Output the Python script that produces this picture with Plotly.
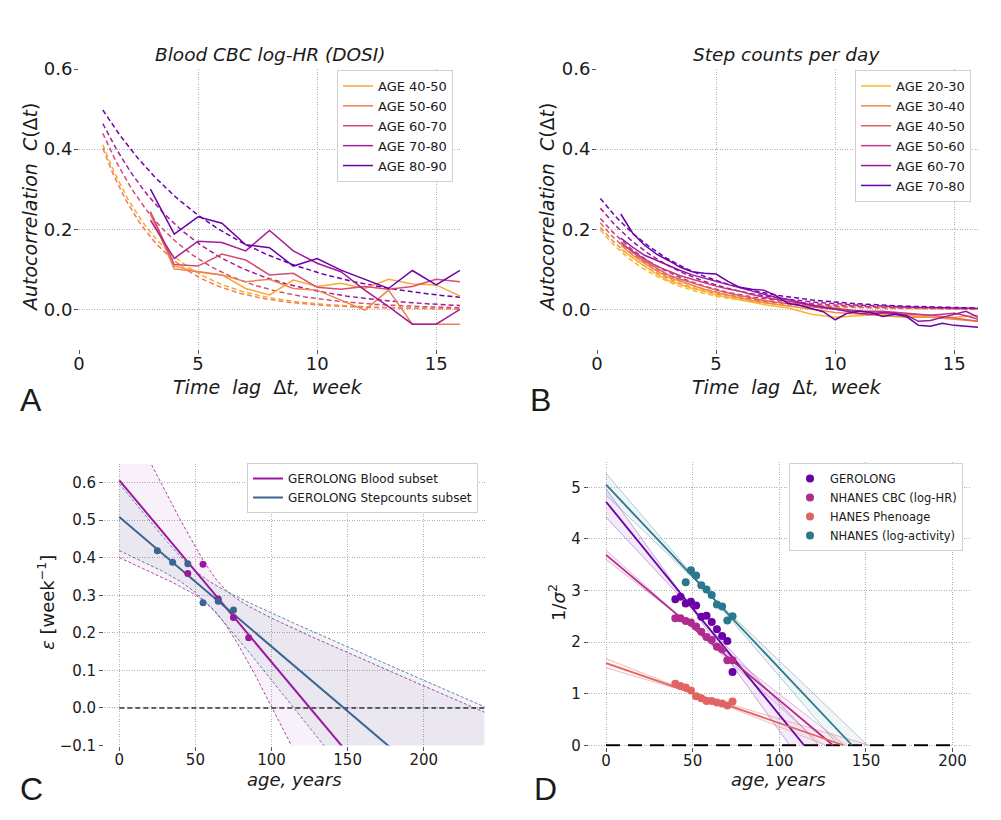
import numpy as np
import plotly.graph_objects as go

FONT = "DejaVu Sans"
TXT = "#1a1a1a"

# ---------------- Panel A : Blood CBC log-HR (DOSI) ----------------
a_groups = ["AGE 40-50", "AGE 50-60", "AGE 60-70", "AGE 70-80", "AGE 80-90"]
a_colors = ["#fca636", "#ef7e50", "#d44e71", "#a31e9a", "#6a00a8"]
a_lags = [3, 4, 5, 6, 7, 8, 9, 10, 11, 12, 13, 14, 15, 16]
a_4050 = [0.236, 0.108, 0.094, 0.086, 0.052, 0.036, 0.073, 0.057, 0.065, 0.052, 0.075, 0.063, 0.061, 0.033]
a_5060 = [0.240, 0.101, 0.094, 0.086, 0.069, 0.075, 0.052, 0.048, 0.023, -0.002, 0.048, -0.037, -0.037, -0.037]
a_6070 = [0.244, 0.112, 0.108, 0.138, 0.123, 0.086, 0.090, 0.055, 0.050, 0.057, 0.050, 0.057, 0.075, 0.069]
a_7080 = [0.223, 0.127, 0.170, 0.167, 0.146, 0.197, 0.146, 0.115, 0.094, 0.048, 0.007, -0.037, -0.037, 0.000]
a_8090 = [0.300, 0.188, 0.231, 0.215, 0.161, 0.154, 0.108, 0.127, 0.098, 0.075, 0.052, 0.097, 0.061, 0.097]
a_series = [a_4050, a_5060, a_6070, a_7080, a_8090]
# exponential fits C = amp * exp(-lag / tau)
a_fit_amp = [0.60, 0.60, 0.60, 0.60, 0.60]
a_fit_tau = [2.64, 2.50, 3.21, 3.88, 5.34]
a_fit_start, a_fit_end = 1.0, 16.0

# ---------------- Panel B : Step counts per day ----------------
b_groups = ["AGE 20-30", "AGE 30-40", "AGE 40-50", "AGE 50-60", "AGE 60-70", "AGE 70-80"]
b_colors = ["#fdb42f", "#f48849", "#df6263", "#c13b82", "#9a169f", "#6a00a8"]
b_lags = [1.0, 1.5, 2.0, 2.5, 3.0, 3.5, 4.0, 4.5, 5.0, 5.5, 6.0, 6.5, 7.0, 7.5, 8.0, 8.5,
          9.0, 9.5, 10.0, 10.5, 11.0, 11.5, 12.0, 12.5, 13.0, 13.5, 14.0, 14.5, 15.0, 15.5, 16.0]
b_2030 = [0.150, 0.128, 0.108, 0.088, 0.072, 0.062, 0.052, 0.045, 0.036, 0.030, 0.024, 0.018, 0.012, 0.008, 0.004, -0.004,
          -0.012, -0.016, -0.020, -0.018, -0.016, -0.014, -0.012, -0.013, -0.015, -0.018, -0.020, -0.020, -0.020, -0.018, -0.015]
b_3040 = [0.160, 0.135, 0.115, 0.096, 0.080, 0.070, 0.060, 0.050, 0.042, 0.035, 0.028, 0.022, 0.017, 0.013, 0.009, 0.004,
          0.000, -0.004, -0.008, -0.010, -0.012, -0.014, -0.016, -0.018, -0.020, -0.020, -0.020, -0.022, -0.025, -0.028, -0.030]
b_4050 = [0.168, 0.142, 0.120, 0.102, 0.086, 0.075, 0.066, 0.056, 0.048, 0.041, 0.035, 0.028, 0.022, 0.018, 0.014, 0.010,
          0.007, 0.003, 0.000, -0.003, -0.005, -0.008, -0.010, -0.011, -0.012, -0.013, -0.015, -0.018, -0.022, -0.026, -0.030]
b_5060 = [0.165, 0.145, 0.125, 0.108, 0.095, 0.084, 0.075, 0.066, 0.058, 0.051, 0.045, 0.037, 0.030, 0.025, 0.020, 0.015,
          0.010, 0.006, 0.003, 0.000, -0.004, -0.005, -0.005, -0.007, -0.010, -0.013, -0.015, -0.012, -0.010, -0.016, -0.025]
b_6070 = [0.178, 0.155, 0.135, 0.122, 0.110, 0.097, 0.086, 0.078, 0.070, 0.062, 0.055, 0.046, 0.038, 0.030, 0.025, 0.017,
          0.010, 0.005, 0.000, -0.005, -0.010, -0.012, -0.008, -0.010, -0.015, -0.030, -0.028, -0.020, -0.012, -0.005, -0.020]
b_7080 = [0.238, 0.190, 0.160, 0.138, 0.122, 0.105, 0.094, 0.090, 0.088, 0.070, 0.055, 0.050, 0.048, 0.035, 0.015, 0.010,
          0.002, -0.006, -0.026, -0.010, -0.004, -0.008, -0.018, -0.012, -0.018, -0.040, -0.042, -0.035, -0.040, -0.042, -0.045]
b_series = [b_2030, b_3040, b_4050, b_5060, b_6070, b_7080]
b_fit_amp = [0.209, 0.215, 0.226, 0.237, 0.263, 0.288]
b_fit_tau = [2.7, 2.9, 3.0, 3.2, 3.4, 3.6]
b_fit_start, b_fit_end = 1.0 / 7.0, 16.0

# ---------------- Panel C : epsilon vs age ----------------
c_names = ["GEROLONG Blood subset", "GEROLONG Stepcounts subset"]
c_colors = ["#9c179e", "#3a6590"]
c_blood_age = [45, 55, 65, 75, 85]
c_blood_eps = [0.358, 0.383, 0.290, 0.241, 0.187]
c_steps_age = [25, 35, 45, 55, 65, 75]
c_steps_eps = [0.419, 0.388, 0.384, 0.280, 0.284, 0.261]
c_t95 = [3.182, 2.776]          # Student t quantiles (df = n - 2)
c_age_max = 240

# ---------------- Panel D : 1/sigma^2 vs age ----------------
d_names = ["GEROLONG", "NHANES CBC (log-HR)", "HANES Phenoage", "NHANES (log-activity)"]
d_colors = ["#6a00a8", "#b12a90", "#e16462", "#2a788e"]
d_ages_main = [40, 43, 46, 49, 52, 55, 58, 61, 64, 67, 70, 73]
d_ger = [2.83, 2.88, 2.75, 2.78, 2.71, 2.49, 2.51, 2.39, 2.25, 2.12, 2.02, 1.42]
d_cbc = [2.46, 2.46, 2.41, 2.38, 2.30, 2.20, 2.10, 2.04, 1.91, 1.86, 1.65, 1.65]
d_phe = [1.19, 1.15, 1.12, 1.06, 0.95, 0.91, 0.86, 0.86, 0.83, 0.81, 0.77, 0.85]
d_ages_act = [46, 49, 52, 55, 58, 61, 64, 67, 70, 73]
d_act = [3.16, 3.39, 3.29, 3.10, 3.02, 2.91, 2.73, 2.69, 2.42, 2.50]
# fitted lines: value at age 0 and age where 1/sigma^2 reaches 0
d_fit_b0 = [4.72, 3.69, 1.59, 5.05]
d_fit_x0 = [114.3, 131.0, 137.0, 142.0]
d_ci_hi_b0 = [4.97, 3.78, 1.68, 5.27]
d_ci_hi_x0 = [106.0, 125.0, 127.0, 134.0]
d_ci_lo_b0 = [4.42, 3.60, 1.50, 4.85]
d_ci_lo_x0 = [123.0, 138.0, 152.0, 151.0]
d_zero_end = 200

fig = go.Figure()

# ---- A ----
for name, col, ys, amp, tau in zip(a_groups, a_colors, a_series, a_fit_amp, a_fit_tau):
    tt = np.linspace(a_fit_start, a_fit_end, 120)
    fig.add_trace(go.Scatter(x=tt, y=amp * np.exp(-tt / tau), mode="lines", xaxis="x", yaxis="y",
                             line=dict(color=col, width=1.5, dash="5px,3px"), showlegend=False, hoverinfo="skip"))
for name, col, ys in zip(a_groups, a_colors, a_series):
    fig.add_trace(go.Scatter(x=a_lags, y=ys, mode="lines", name=name, xaxis="x", yaxis="y",
                             line=dict(color=col, width=1.5), legend="legend"))

# ---- B ----
for name, col, ys, amp, tau in zip(b_groups, b_colors, b_series, b_fit_amp, b_fit_tau):
    tt = np.linspace(b_fit_start, b_fit_end, 160)
    fig.add_trace(go.Scatter(x=tt, y=amp * np.exp(-tt / tau), mode="lines", xaxis="x2", yaxis="y2",
                             line=dict(color=col, width=1.5, dash="5px,3px"), showlegend=False, hoverinfo="skip"))
for name, col, ys in zip(b_groups, b_colors, b_series):
    fig.add_trace(go.Scatter(x=b_lags, y=ys, mode="lines", name=name, xaxis="x2", yaxis="y2",
                             line=dict(color=col, width=1.5), legend="legend2"))

# ---- C ----
c_sets = [(c_blood_age, c_blood_eps), (c_steps_age, c_steps_eps)]
c_fill = ["rgba(156,23,158,0.06)", "rgba(58,101,144,0.07)"]
xx = np.linspace(0, c_age_max, 300)
fits = []
for (ages, eps), col, tq, fc in zip(c_sets, c_colors, c_t95, c_fill):
    ages = np.array(ages, float); eps = np.array(eps, float)
    k, b = np.polyfit(ages, eps, 1)
    fits.append((k, b))
    res = eps - (k * ages + b)
    n = len(ages)
    s = np.sqrt(np.sum(res ** 2) / (n - 2))
    sxx = np.sum((ages - ages.mean()) ** 2)
    w = tq * s * np.sqrt(1.0 / n + (xx - ages.mean()) ** 2 / sxx)
    yfit = k * xx + b
    fig.add_trace(go.Scatter(x=xx, y=yfit - w, mode="lines", xaxis="x3", yaxis="y3",
                             line=dict(color=col, width=0.8, dash="3px,2px"), showlegend=False, hoverinfo="skip"))
    fig.add_trace(go.Scatter(x=xx, y=yfit + w, mode="lines", xaxis="x3", yaxis="y3", fill="tonexty",
                             fillcolor=fc, line=dict(color=col, width=0.8, dash="3px,2px"),
                             showlegend=False, hoverinfo="skip"))
fig.add_trace(go.Scatter(x=[0, c_age_max], y=[0, 0], mode="lines", xaxis="x3", yaxis="y3",
                         line=dict(color="#333333", width=1.4, dash="5px,3px"), showlegend=False, hoverinfo="skip"))
for name, col, (k, b) in zip(c_names, c_colors, fits):
    fig.add_trace(go.Scatter(x=xx, y=k * xx + b, mode="lines", name=name, xaxis="x3", yaxis="y3",
                             line=dict(color=col, width=2), legend="legend3"))
for (ages, eps), col in zip(c_sets, c_colors):
    fig.add_trace(go.Scatter(x=ages, y=eps, mode="markers", xaxis="x3", yaxis="y3",
                             marker=dict(color=col, size=7), showlegend=False))

# ---- D ----
d_sets = [(d_ages_main, d_ger), (d_ages_main, d_cbc), (d_ages_main, d_phe), (d_ages_act, d_act)]
d_light = ["rgba(106,0,168,0.35)", "rgba(177,42,144,0.35)", "rgba(225,100,98,0.4)", "rgba(42,120,142,0.35)"]
d_fillc = ["rgba(106,0,168,0.08)", "rgba(177,42,144,0.06)", "rgba(225,100,98,0.06)", "rgba(42,120,142,0.07)"]
for i in range(4):
    xend = max(d_ci_hi_x0[i], d_ci_lo_x0[i])
    g = np.linspace(0, xend, 200)
    hi = np.clip(d_ci_hi_b0[i] * (1 - g / d_ci_hi_x0[i]), 0, None)
    lo = np.clip(d_ci_lo_b0[i] * (1 - g / d_ci_lo_x0[i]), 0, None)
    fig.add_trace(go.Scatter(x=g, y=hi, mode="lines", xaxis="x4", yaxis="y4", line=dict(width=0),
                             showlegend=False, hoverinfo="skip"))
    fig.add_trace(go.Scatter(x=g, y=lo, mode="lines", xaxis="x4", yaxis="y4", line=dict(width=0),
                             fill="tonexty", fillcolor=d_fillc[i], showlegend=False, hoverinfo="skip"))
for i in range(4):
    for b0, x0 in ((d_ci_hi_b0[i], d_ci_hi_x0[i]), (d_ci_lo_b0[i], d_ci_lo_x0[i])):
        fig.add_trace(go.Scatter(x=[0, x0], y=[b0, 0], mode="lines", xaxis="x4", yaxis="y4",
                                 line=dict(color=d_light[i], width=1), showlegend=False, hoverinfo="skip"))
fig.add_trace(go.Scatter(x=[0, d_zero_end], y=[0, 0], mode="lines", xaxis="x4", yaxis="y4",
                         line=dict(color="black", width=2.2, dash="14px,8px"), showlegend=False, hoverinfo="skip"))
for i in range(4):
    fig.add_trace(go.Scatter(x=[0, d_fit_x0[i]], y=[d_fit_b0[i], 0], mode="lines", xaxis="x4", yaxis="y4",
                             line=dict(color=d_colors[i], width=1.8), showlegend=False, hoverinfo="skip"))
for (ages, vals), name, col in zip(d_sets, d_names, d_colors):
    fig.add_trace(go.Scatter(x=ages, y=vals, mode="markers", name=name, xaxis="x4", yaxis="y4",
                             marker=dict(color=col, size=8), legend="legend4"))


def axis(domain, rng, dtick, fsize, fmt=None, anchor=None, standoff=0):
    d = dict(domain=domain, range=rng, dtick=dtick, tick0=0, showgrid=True, gridcolor="#b0b0b0",
             griddash="1px,1.5px", gridwidth=1, zeroline=False, showline=False, ticks="outside",
             ticklen=4, tickwidth=1, tickcolor="#555555", automargin=False,
             ticklabelstandoff=standoff,
             tickfont=dict(family=FONT, size=fsize, color=TXT))
    if fmt:
        d["tickformat"] = fmt
    if anchor:
        d["anchor"] = anchor
    return d


# the page body adds an 8 px offset; place everything in reference pixel coordinates
OFF = 8.0
W, H = 1001.0 - 2 * OFF, 820.0 - 2 * OFF
def px(x): return (x - OFF) / W
def py(y): return 1 - (y - OFF) / H

def leg(xr, yt, size):
    return dict(x=px(xr), y=py(yt), xanchor="right", yanchor="top", bgcolor="white",
                bordercolor="#d0d0d0", borderwidth=1, itemwidth=30, tracegroupgap=0,
                traceorder="normal", font=dict(family=FONT, size=size, color=TXT))

layout = dict(
    template="none",
    width=int(W), height=int(H), margin=dict(l=0, r=0, t=0, b=0, pad=0, autoexpand=False),
    paper_bgcolor="white", plot_bgcolor="white",
    xaxis=axis([px(79), px(460)], [0, 16], 5, 18, anchor="y", standoff=-6),
    yaxis=axis([py(349.4), py(69)], [-0.1, 0.6], 0.2, 18, fmt=".1f", anchor="x", standoff=-2),
    xaxis2=axis([px(597), px(978)], [0, 16], 5, 18, anchor="y2", standoff=-6),
    yaxis2=axis([py(349.4), py(69)], [-0.1, 0.6], 0.2, 18, fmt=".1f", anchor="x2", standoff=-2),
    xaxis3=axis([px(104.1), px(484.6)], [-10, 240], 50, 15, anchor="y3", standoff=-4),
    yaxis3=axis([py(745.5), py(463.9)], [-0.1, 0.65], 0.1, 15, fmt=".1f", anchor="x3"),
    xaxis4=axis([px(588.7), px(969.9)], [-10, 210], 50, 15, anchor="y4", standoff=-4),
    yaxis4=axis([py(746.8), py(461.5)], [-0.03, 5.5], 1, 15, anchor="x4"),
    legend=leg(453, 70, 13),
    legend2=leg(971, 70, 13),
    legend3=leg(478, 463, 12),
    legend4=leg(963, 463, 11.5),
)

NB = "\u00a0"
ann = []
def text(x, y, s, size, angle=0, fam=FONT):
    ann.append(dict(x=px(x), y=py(y), xref="paper", yref="paper", text=s, showarrow=False,
                    xanchor="center", yanchor="middle", textangle=angle,
                    font=dict(family=fam, size=size, color=TXT)))

text(270, 54, "<i>Blood CBC log-HR (DOSI)</i>", 18.5)
text(786, 54, "<i>Step counts per day</i>", 18.5)
xlab = "<i>Time" + NB * 2 + "lag" + NB * 2 + "</i>Δ<i>t," + NB * 2 + "week</i>"
ylab = "<i>Autocorrelation" + NB * 2 + "C</i>(Δ<i>t</i>)"
text(268, 387, xlab, 19)
text(787, 387, xlab, 19)
text(30, 208, ylab, 19, -90)
text(547, 208, ylab, 19, -90)
text(294, 779, "<i>age, years</i>", 18)
text(778, 779, "<i>age, years</i>", 18)
text(46, 603, "<i>ε</i> [week<sup>−1</sup>]", 18, -90)
text(557, 603, "1/<i>σ</i><sup>2</sup>", 18, -90)
text(31, 400, "A", 32, fam="Liberation Sans")
text(540, 400, "B", 32, fam="Liberation Sans")
text(31, 789, "C", 32, fam="Liberation Sans")
text(545, 789, "D", 32, fam="Liberation Sans")
layout["annotations"] = ann

fig.update_layout(**layout)
fig.write_html("out.html")
